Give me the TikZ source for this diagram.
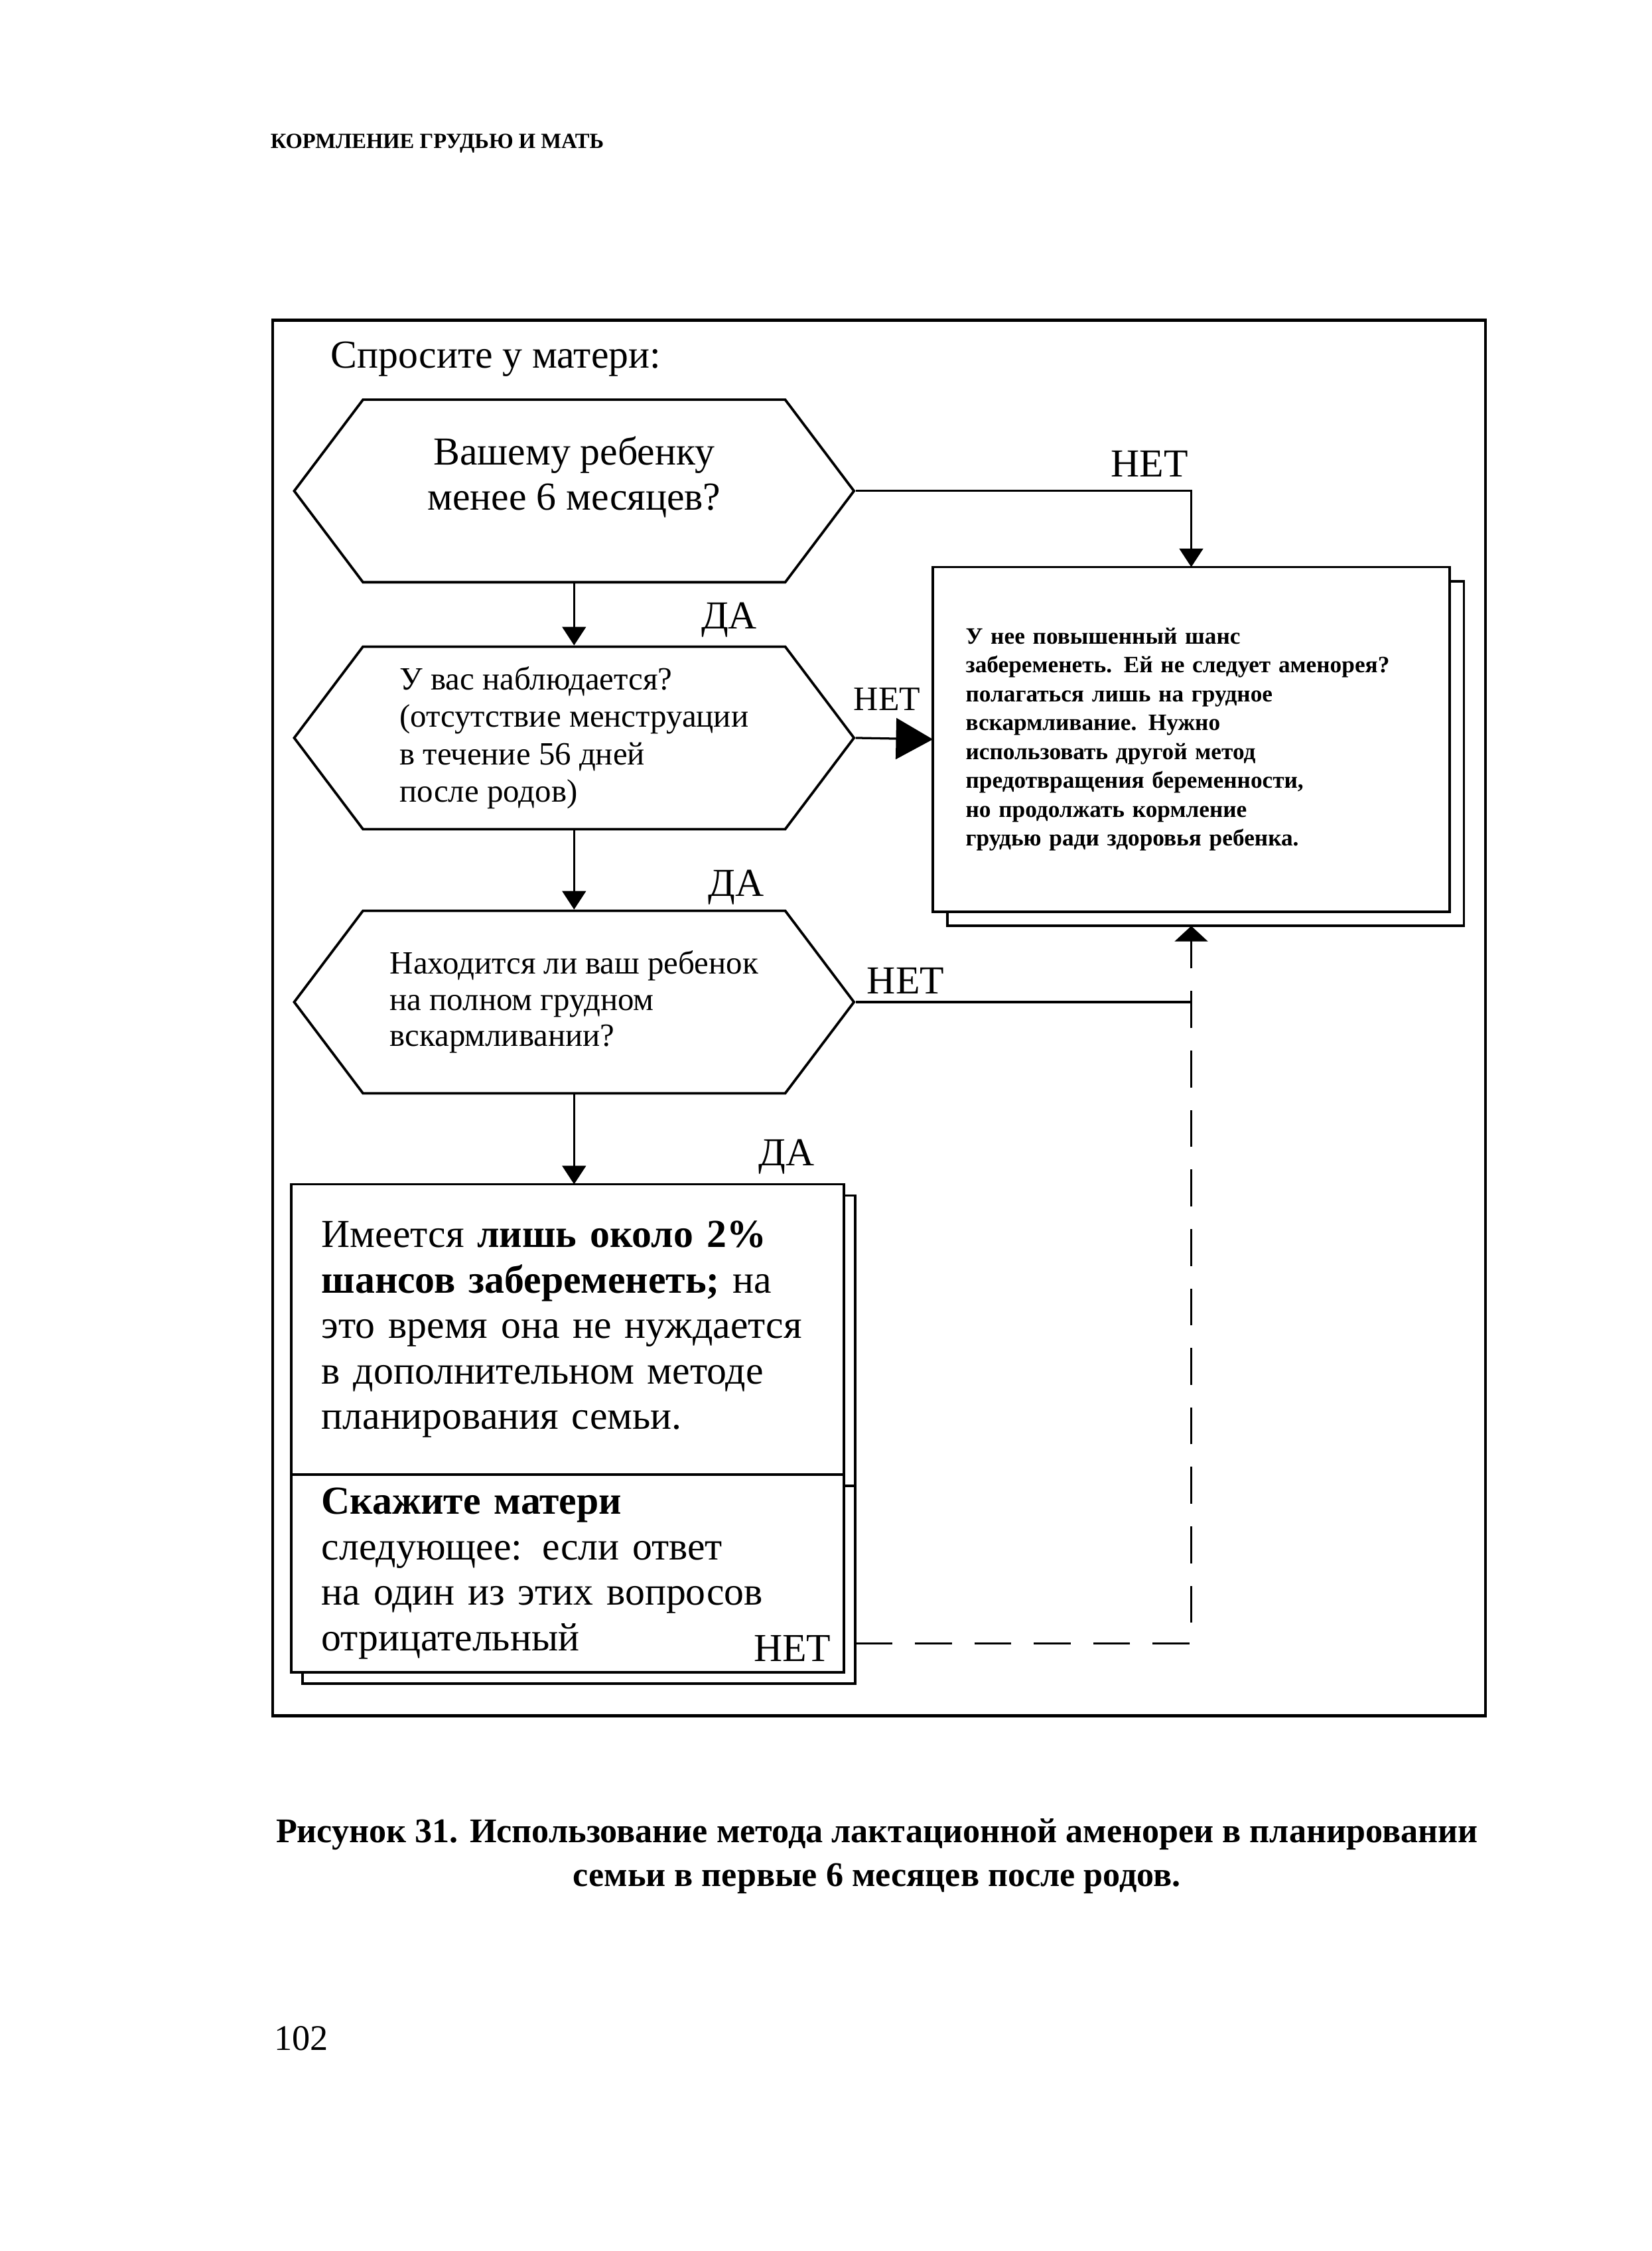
\documentclass[tikz,border=0pt]{standalone}
\usepackage{fontspec}
\setmainfont{Liberation Serif}
\usetikzlibrary{shapes.symbols,arrows.meta,shadows,positioning}
%
\tikzset{%
  question/.style={draw,line width=0.7pt,signal,signal to=west and east,signal pointer angle=106,%
    minimum width=54.6mm,minimum height=17.8mm,inner sep=0pt},%
  answerbox/.style={draw,line width=0.7pt,fill=white,rectangle,align=left,outer sep=0pt,%
    copy shadow={shadow xshift=#1,shadow yshift=-#1}},%
  answerbox/.default=1.1mm,%
  yesno/.style={font=\fontsize{11}{13}\selectfont,inner sep=0pt},%
  flowline/.style={line width=0.6pt},%
  flowarrow/.style={flowline,-{Triangle[width=2.3mm,length=1.8mm]}},%
  bigarrow/.style={flowline,-{Triangle[width=4mm,length=3.6mm]}},%
  backarrow/.style={flowline,dash pattern=on 3.6mm off 2.2mm,-{Triangle[width=3.2mm,length=1.5mm]}}%
}
%
\begin{document}
\begin{tikzpicture}[x=0.14mm,y=0.14mm]%
\useasboundingbox (0,0) rectangle (1151,-1568);%
%
\node[anchor=west,inner sep=0pt,font=\fontsize{6}{7}\selectfont\bfseries] (header) at (188,-100) {КОРМЛЕНИЕ ГРУДЬЮ И МАТЬ};%
\draw[line width=0.9pt] (190,-223) rectangle (1035,-1195);%
\node[anchor=west,inner sep=0pt,font=\fontsize{11}{13}\selectfont] (ask) at (230,-250) {Спросите у матери:};%
%
\node[question,align=center,text depth=3.5mm,font=\fontsize{11}{12.5}\selectfont] (q1) at (400,-342) {Вашему ребенку\\менее 6 месяцев?};%
\node[question,align=left,font=\fontsize{9}{10.4}\selectfont] (q2) at (400,-514) {У вас наблюдается?\\(отсутствие менструации\\в течение 56 дней\\после родов)};%
\node[question,align=left,font=\fontsize{9}{10}\selectfont] (q3) at (400,-698) {Находится ли ваш ребенок\\на полном грудном\\вскармливании?};%
%
\node[answerbox=1.4mm,text width=44mm,inner xsep=3.2mm,minimum height=33.6mm,font=\fontsize{6.5}{8}\selectfont\bfseries] (risk) at (830,-515) {У нее повышенный шанс\\забеременеть. Ей не следует аменорея?\\полагаться лишь на грудное\\вскармливание. Нужно\\использовать другой метод\\предотвращения беременности,\\но продолжать кормление\\грудью ради здоровья ребенка.};%
%
\node[answerbox,text width=48mm,inner xsep=2.95mm,minimum height=28.3mm,font=\fontsize{11}{12.6}\selectfont] (ok) at (395.5,-926) {Имеется \textbf{лишь около 2\%}\\\textbf{шансов забеременеть;} на\\это время она не нуждается\\в дополнительном методе\\планирования семьи.};%
\node[answerbox,below=0pt of ok,text width=48mm,inner xsep=2.95mm,minimum height=19.3mm,font=\fontsize{11}{12.6}\selectfont] (tell) {\textbf{Скажите матери}\\следующее: если ответ\\на один из этих вопросов\\отрицательный};%
%
\draw[flowarrow] (q1.east) -| (risk.north);%
\draw[flowarrow] (q1.south) -- (q2.north);%
\draw[bigarrow] (q2.east) -- (risk.west);%
\draw[flowarrow] (q2.south) -- (q3.north);%
\draw[flowline] (q3.east) -- (q3.east -| risk.south);%
\draw[flowarrow] (q3.south) -- (q3.south |- ok.north);%
\draw[backarrow] ([shift={(8,20)}]tell.south east) -| ([yshift=-1.4mm]risk.south);%
%
\node[yesno] (no1) at (801,-323) {НЕТ};%
\node[yesno] (yes1) at (508,-432) {ДА};%
\node[yesno,font=\fontsize{9.5}{11}\selectfont] (no2) at (618,-487) {НЕТ};%
\node[yesno] (yes2) at (513,-618) {ДА};%
\node[yesno] (no3) at (631,-683) {НЕТ};%
\node[yesno] (yes3) at (548,-806) {ДА};%
\node[yesno] (no4) at (552,-1148) {НЕТ};%
%
\node[align=center,font=\fontsize{9.6}{12}\selectfont\bfseries] (caption) at (611,-1293) {Рисунок 31. Использование метода лактационной аменореи в планировании\\семьи в первые 6 месяцев после родов.};%
\node[font=\fontsize{10}{12}\selectfont] (pagenum) at (210,-1420) {102};%
\end{tikzpicture}
\end{document}
